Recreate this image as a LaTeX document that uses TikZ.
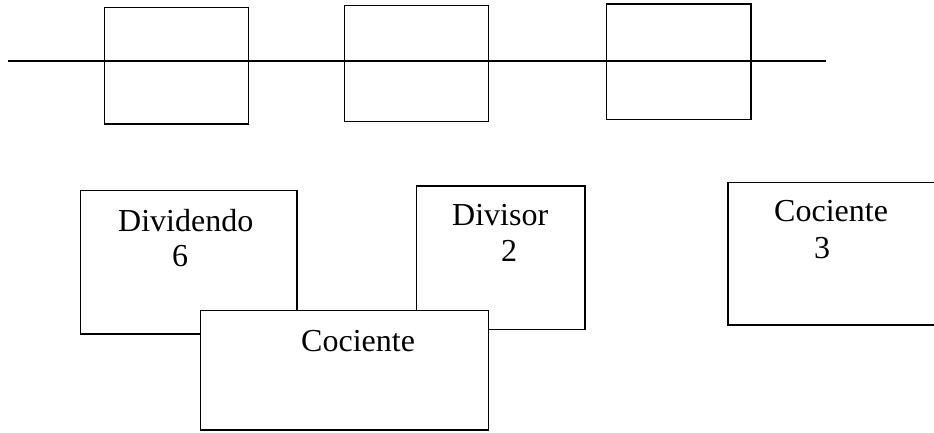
\documentclass[tikz,border=0pt]{standalone}
\usepackage{fontspec}
\setmainfont{Liberation Serif}
\begin{document}
\begin{tikzpicture}[x=1pt,y=-1pt,
  frame/.style={draw=black,line width=1.3pt,fill=none},
  framew/.style={draw=black,line width=1.3pt,fill=white},
  lbl/.style={inner sep=0pt,anchor=base west,font=\fontsize{32}{35}\selectfont},
  axis/.style={draw=black,line width=1.3pt}]
\useasboundingbox (0,0) rectangle (934,432);
\clip (0,0) rectangle (934,432);
% top row
\coordinate (L) at (8,61);
\coordinate (R) at (826,61);
\draw[axis] (L) -- (R);
\node[frame,minimum width=144pt,minimum height=116.5pt,inner sep=0pt] (b1) at (176.5,65.75) {};
\node[frame,minimum width=144pt,minimum height=116pt,inner sep=0pt] (b2) at (416.5,63.5) {};
\node[frame,minimum width=144.5pt,minimum height=115.5pt,inner sep=0pt] (b3) at (678.75,61.75) {};
% bottom row
\node[frame,minimum width=216.5pt,minimum height=143.5pt,inner sep=0pt] (dvd) at (188.75,262.25) {};
\node[frame,minimum width=168.5pt,minimum height=143.5pt,inner sep=0pt] (dvs) at (500.75,257.75) {};
\node[frame,minimum width=222pt,minimum height=142.5pt,inner sep=0pt] (coc3) at (839,253.75) {};
\node[framew,minimum width=288pt,minimum height=119.5pt,inner sep=0pt] (coc) at (344.5,370.25) {};
% labels
\node[lbl] (tdvd) at (118,231.7) {Dividendo};
\node[lbl] (tsix) at (172,266.7) {6};
\node[lbl] (tdvs) at (452,225) {Divisor};
\node[lbl] (ttwo) at (501,261.5) {2};
\node[lbl] (tcoc) at (301,351.7) {Cociente};
\node[lbl] (tcoc3) at (774,221.7) {Cociente};
\node[lbl] (tthree) at (814,258.5) {3};
\end{tikzpicture}
\end{document}
